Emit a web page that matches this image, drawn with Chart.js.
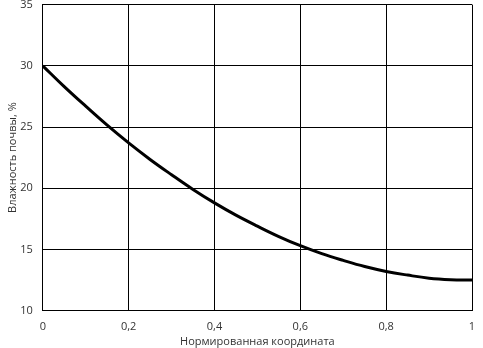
<!DOCTYPE html>
<html>
<head>
<meta charset="utf-8">
<script src="https://cdn.jsdelivr.net/npm/chart.js@4"></script>
<style>
  html, body { margin: 0; padding: 0; background: #fff; }
  #wrap { width: 483px; height: 348px; }
</style>
</head>
<body>
<div id="wrap"><canvas id="grafico"></canvas></div>
<script>
// Данные
const koord = [0, 0.05, 0.1, 0.15, 0.2, 0.25, 0.3, 0.35, 0.4, 0.45, 0.5,
               0.55, 0.6, 0.65, 0.7, 0.75, 0.8, 0.85, 0.9, 0.95, 1];
const vlazhnost = [30, 28.3, 26.7, 25.15, 23.7, 22.35, 21.1, 19.9, 18.8, 17.8, 16.9,
                   16.05, 15.3, 14.65, 14.1, 13.6, 13.2, 12.9, 12.65, 12.53, 12.5];

const fmt = v => String(Math.round(v * 10) / 10).replace('.', ',');
const shrift = { family: 'Open Sans', size: 11 };

new Chart(document.getElementById('grafico'), {
  type: 'line',
  data: {
    datasets: [{
      data: koord.map((x, i) => ({ x: x, y: vlazhnost[i] })),
      borderColor: '#000',
      borderWidth: 3,
      pointRadius: 0,
      fill: false,
      tension: 0.4
    }]
  },
  options: {
    responsive: true,
    maintainAspectRatio: false,
    animation: false,
    layout: { padding: { top: 0, right: 11, left: 6, bottom: 0 } },
    plugins: { legend: { display: false }, tooltip: { enabled: false } },
    scales: {
      x: {
        type: 'linear',
        min: 0, max: 1,
        border: { color: '#000', width: 1 },
        grid: { color: '#000', lineWidth: 1, drawTicks: true, tickLength: 10, tickColor: 'rgba(0,0,0,0)' },
        ticks: { stepSize: 0.2, color: '#333', font: shrift, padding: 0, callback: fmt },
        title: { display: true, text: 'Нормированная координата', color: '#333', font: shrift, padding: { top: 1, bottom: 0 } }
      },
      y: {
        min: 10, max: 35,
        border: { color: '#000', width: 1 },
        grid: { color: '#000', lineWidth: 1, drawTicks: true, tickLength: 12, tickColor: 'rgba(0,0,0,0)' },
        ticks: { stepSize: 5, color: '#333', font: shrift, padding: -2 },
        title: { display: true, text: 'Влажность почвы, %', color: '#333', font: shrift, padding: { top: 0, bottom: 3 } }
      }
    }
  }
});
</script>
</body>
</html>
